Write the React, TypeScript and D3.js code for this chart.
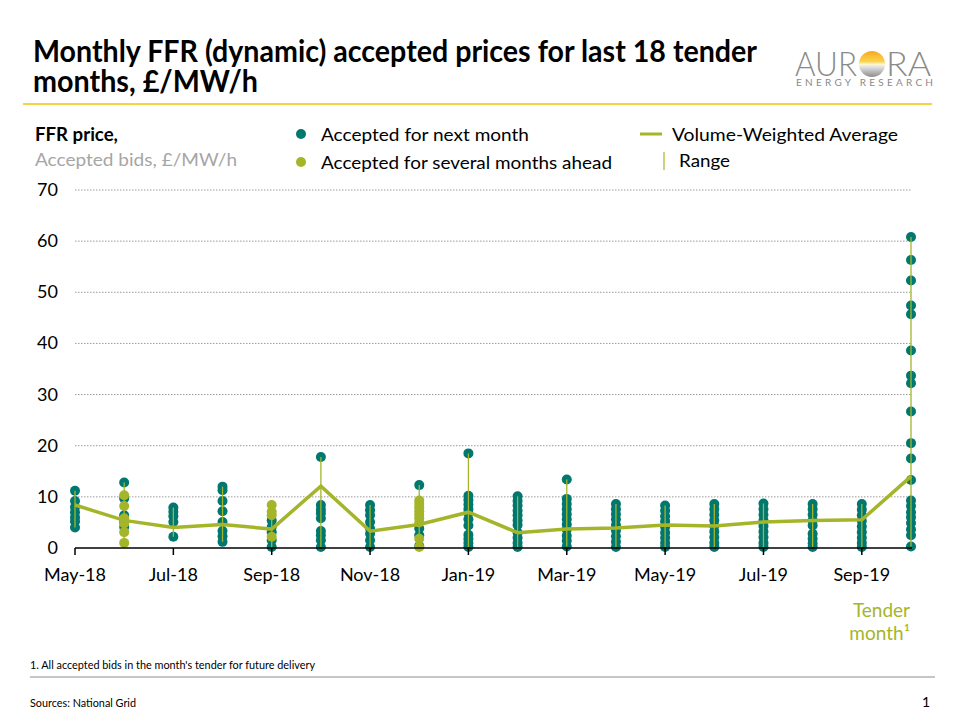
import React from "react";
import * as d3 from "d3";

// Tender months (x categories)
const months = [
  "May-18", "Jun-18", "Jul-18", "Aug-18", "Sep-18", "Oct-18", "Nov-18", "Dec-18", "Jan-19",
  "Feb-19", "Mar-19", "Apr-19", "May-19", "Jun-19", "Jul-19", "Aug-19", "Sep-19", "Oct-19",
];

// Labelled ticks (every second month)
const tickLabels = ["May-18", "Jul-18", "Sep-18", "Nov-18", "Jan-19", "Mar-19", "May-19", "Jul-19", "Sep-19"];

const yTicks = [0, 10, 20, 30, 40, 50, 60, 70];

// Accepted bids for next month, £/MW/h
const acceptedNextMonth: number[][] = [
  [11.2, 9.2, 8.0, 7.0, 6.0, 5.2, 4.0],
  [12.8, 9.7, 6.4, 5.1, 4.1],
  [7.9, 7.1, 6.2, 5.1, 2.2],
  [12.0, 11.3, 9.2, 7.2, 5.1, 3.3, 2.3, 1.2],
  [5.4, 4.1, 3.1, 1.5, 0.2],
  [17.8, 8.4, 7.5, 6.8, 5.8, 3.3, 2.5, 1.5, 0.2],
  [8.4, 7.4, 6.4, 5.1, 3.8, 2.8, 1.5, 0.2],
  [12.3, 3.8, 2.5, 0.4],
  [18.5, 10.2, 9.4, 8.5, 7.6, 6.8, 5.6, 4.4, 2.6, 1.8, 1.0, 0.2],
  [10.1, 9.2, 8.3, 7.3, 6.4, 5.4, 4.5, 3.0, 2.0, 1.0, 0.2],
  [13.4, 9.6, 8.6, 7.6, 6.6, 5.6, 4.6, 3.6, 2.4, 1.4, 0.3],
  [8.6, 7.6, 6.6, 5.6, 4.5, 3.4, 2.3, 1.2, 0.2],
  [8.3, 7.3, 6.2, 5.2, 4.1, 3.0, 2.0, 1.0, 0.2],
  [8.6, 7.6, 6.5, 5.4, 4.3, 3.2, 2.1, 1.0, 0.2],
  [8.7, 7.6, 6.5, 5.4, 4.3, 3.2, 2.1, 1.0, 0.2],
  [8.6, 7.6, 6.5, 5.4, 4.4, 2.8, 1.8, 0.9, 0.2],
  [8.6, 7.5, 6.4, 5.3, 4.2, 3.1, 2.0, 1.0, 0.2],
  [60.8, 56.3, 52.3, 47.4, 45.7, 38.6, 33.7, 32.2, 26.7, 20.5, 17.5, 13.3, 9.3, 8.2, 7.0, 6.0, 4.9, 3.6, 2.5, 0.3],
];

// Accepted bids for several months ahead, £/MW/h
const acceptedSeveralAhead: number[][] = [
  [],
  [10.3, 8.2, 5.8, 4.8, 3.1, 1.0],
  [],
  [],
  [8.4, 7.1, 6.4, 2.2],
  [],
  [],
  [9.3, 8.6, 7.9, 7.2, 6.5, 5.8, 5.0, 1.8, 0.2],
  [], [], [], [], [], [], [], [], [], [],
];

// Volume-weighted average accepted price, £/MW/h
const volumeWeightedAvg = [8.4, 5.4, 4.0, 4.6, 3.7, 12.1, 3.3, 4.6, 7.0, 3.0, 3.7, 3.9, 4.5, 4.3, 5.1, 5.4, 5.5, 14.0];

const TEAL = "#00786F";
const GREEN = "#A5B52A";
const FONT = "Lato, 'Open Sans', sans-serif";
const DOT_R = 5;

export default function App() {
  const x = d3.scaleLinear().domain([0, months.length - 1]).range([75, 911]);
  const y = d3.scaleLinear().domain([0, 70]).range([548, 190]);

  const line = d3
    .line<number>()
    .x((_, i) => x(i))
    .y((d) => y(d));

  const ranges = months.map((_, i) => {
    const all = [...acceptedNextMonth[i], ...acceptedSeveralAhead[i]];
    return { i, min: d3.min(all) as number, max: d3.max(all) as number };
  });

  return (
    <svg width={960} height={720} style={{ position: "absolute", left: 0, top: 0, background: "#fff" }} fontFamily={FONT}>
      <rect width={960} height={720} fill="#fff" />

      {/* Title */}
      <text x={33} y={62} fontSize={30} fontWeight={700} fill="#000" textLength={724} lengthAdjust="spacingAndGlyphs">
        Monthly FFR (dynamic) accepted prices for last 18 tender
      </text>
      <text x={33} y={92} fontSize={30} fontWeight={700} fill="#000" textLength={225} lengthAdjust="spacingAndGlyphs">
        months, £/MW/h
      </text>
      <line x1={23} x2={932} y1={104} y2={104} stroke="#F5C400" strokeWidth={1.5} />

      {/* Logo */}
      <defs>
        <linearGradient id="sun" x1="0" y1="0" x2="0" y2="1">
          <stop offset="0%" stopColor="#F6A91C" />
          <stop offset="40%" stopColor="#FAD24F" />
          <stop offset="52%" stopColor="#FFF6D0" />
          <stop offset="60%" stopColor="#e4e4e4" />
          <stop offset="100%" stopColor="#8c8c8c" />
        </linearGradient>
      </defs>
      <text x={795} y={76} fontSize={34} fontWeight={300} fill="#8a8a8a" textLength={62} lengthAdjust="spacingAndGlyphs">
        AUR
      </text>
      <circle cx={872} cy={64} r={13} fill="url(#sun)" />
      <text x={886} y={76} fontSize={34} fontWeight={300} fill="#8a8a8a" textLength={45} lengthAdjust="spacingAndGlyphs">
        RA
      </text>
      <text x={796} y={86} fontSize={10} fill="#8a8a8a" textLength={137} lengthAdjust="spacing">
        ENERGY RESEARCH
      </text>

      {/* Axis title */}
      <text x={35} y={141} fontSize={18} fontWeight={700} fill="#000" textLength={83} lengthAdjust="spacingAndGlyphs">
        FFR price,
      </text>
      <text x={35} y={166} fontSize={18} fill="#a6a6a6" textLength={202} lengthAdjust="spacingAndGlyphs">
        Accepted bids, £/MW/h
      </text>

      {/* Legend */}
      <circle cx={301} cy={134} r={DOT_R} fill={TEAL} />
      <text x={321} y={141} fontSize={18} fill="#000" textLength={208} lengthAdjust="spacingAndGlyphs">
        Accepted for next month
      </text>
      <circle cx={301} cy={162} r={DOT_R} fill={GREEN} />
      <text x={321} y={169} fontSize={18} fill="#000" textLength={291} lengthAdjust="spacingAndGlyphs">
        Accepted for several months ahead
      </text>
      <line x1={640} x2={662} y1={134} y2={134} stroke={GREEN} strokeWidth={3} />
      <text x={672} y={141} fontSize={18} fill="#000" textLength={226} lengthAdjust="spacingAndGlyphs">
        Volume-Weighted Average
      </text>
      <line x1={664} x2={664} y1={152} y2={170} stroke={GREEN} strokeWidth={1.2} />
      <text x={679} y={167} fontSize={18} fill="#000" textLength={51} lengthAdjust="spacingAndGlyphs">
        Range
      </text>

      {/* Grid and y labels */}
      {yTicks.map((t) => (
        <g key={t}>
          {t > 0 && (
            <line x1={75} x2={912} y1={y(t)} y2={y(t)} stroke="#9a9a9a" strokeWidth={1} strokeDasharray="1.5,1.5" />
          )}
          <text x={58} y={y(t) + 6} fontSize={18} textAnchor="end" fill="#000">
            {t}
          </text>
        </g>
      ))}

      {/* Accepted bids for next month */}
      {acceptedNextMonth.map((vals, i) =>
        vals.map((v, j) => <circle key={`n${i}-${j}`} cx={x(i)} cy={y(v)} r={DOT_R} fill={TEAL} />)
      )}
      {/* Accepted bids several months ahead */}
      {acceptedSeveralAhead.map((vals, i) =>
        vals.map((v, j) => <circle key={`a${i}-${j}`} cx={x(i)} cy={y(v)} r={DOT_R} fill={GREEN} />)
      )}

      {/* Range lines */}
      {ranges.map((r) => (
        <line key={`r${r.i}`} x1={x(r.i)} x2={x(r.i)} y1={y(r.min)} y2={y(r.max)} stroke={GREEN} strokeWidth={1.3} />
      ))}

      {/* Volume-weighted average */}
      <path d={line(volumeWeightedAvg) || ""} fill="none" stroke={GREEN} strokeWidth={3.5} strokeLinejoin="miter" />

      {/* X axis */}
      <line x1={75} x2={912} y1={548} y2={548} stroke="#000" strokeWidth={1.5} />
      {months.map((m, i) =>
        tickLabels.includes(m) ? (
          <g key={m}>
            <line x1={x(i)} x2={x(i)} y1={548} y2={555} stroke="#000" strokeWidth={1.5} />
            <text x={x(i)} y={581} fontSize={18} textAnchor="middle" fill="#000">
              {m}
            </text>
          </g>
        ) : null
      )}

      {/* Tender month label */}
      <text x={910} y={617} fontSize={19} textAnchor="end" fill={GREEN}>
        Tender
      </text>
      <text x={910} y={640} fontSize={19} textAnchor="end" fill={GREEN}>
        month¹
      </text>

      {/* Footer */}
      <text x={30} y={669} fontSize={11} fill="#000" textLength={285} lengthAdjust="spacingAndGlyphs">
        1. All accepted bids in the month's tender for future delivery
      </text>
      <line x1={30} x2={935} y1={677} y2={677} stroke="#8c8c8c" strokeWidth={1} />
      <text x={30} y={707} fontSize={11} fill="#000" textLength={106} lengthAdjust="spacingAndGlyphs">
        Sources: National Grid
      </text>
      <text x={930} y={707} fontSize={14} textAnchor="end" fill="#000">
        1
      </text>
    </svg>
  );
}
